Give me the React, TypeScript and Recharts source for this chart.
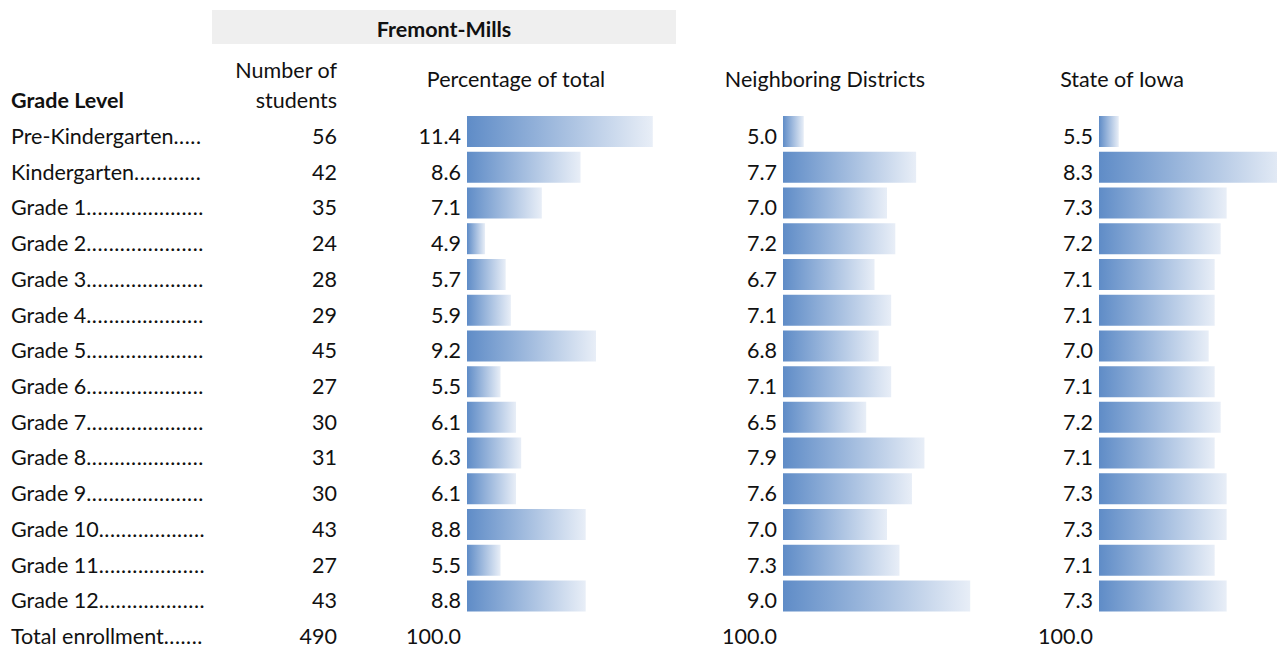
import React from 'react';
import { BarChart, Bar, XAxis, YAxis } from 'recharts';

const grades = ['Pre-Kindergarten', 'Kindergarten', 'Grade 1', 'Grade 2', 'Grade 3', 'Grade 4', 'Grade 5', 'Grade 6', 'Grade 7', 'Grade 8', 'Grade 9', 'Grade 10', 'Grade 11', 'Grade 12', 'Total enrollment'];
const students = [56, 42, 35, 24, 28, 29, 45, 27, 30, 31, 30, 43, 27, 43, 490];
const pctOfTotal = [11.4, 8.6, 7.1, 4.9, 5.7, 5.9, 9.2, 5.5, 6.1, 6.3, 6.1, 8.8, 5.5, 8.8];
const neighboring = [5.0, 7.7, 7.0, 7.2, 6.7, 7.1, 6.8, 7.1, 6.5, 7.9, 7.6, 7.0, 7.3, 9.0];
const iowa = [5.5, 8.3, 7.3, 7.2, 7.1, 7.1, 7.0, 7.1, 7.2, 7.1, 7.3, 7.3, 7.1, 7.3];
const totalPct = [100.0, 100.0, 100.0];

const data = grades.map((g, i) => ({
  grade: g,
  students: students[i],
  pct: i < pctOfTotal.length ? pctOfTotal[i] : null,
  nb: i < neighboring.length ? neighboring[i] : null,
  ia: i < iowa.length ? iowa[i] : null,
}));

const FONT = 'Lato, "Open Sans", sans-serif';
const FS = 21.5;
const CH_TOP = 114;
const CH_H = 536;
const BASE_OFF = 12;
const DOT_PITCH = 5.6;
const LABEL_END = 206;

const fmt = (v: number | null) => (v == null ? '' : v.toFixed(1));

let ctx: CanvasRenderingContext2D | null = null;
const measure = (s: string) => {
  if (typeof document === 'undefined') return s.length * FS * 0.5;
  if (!ctx) ctx = document.createElement('canvas').getContext('2d');
  if (!ctx) return s.length * FS * 0.5;
  ctx.font = `${FS}px Lato`;
  return ctx.measureText(s).width;
};

const dotsFor = (name: string) => {
  const w = measure(name);
  const dotW = measure('.');
  const n = Math.max(0, Math.floor((LABEL_END - 11 - w) / DOT_PITCH));
  return { n, spacing: DOT_PITCH - dotW };
};

const Grad = ({ id }: { id: string }) => (
  <defs>
    <linearGradient id={id} x1="0" y1="0" x2="1" y2="0">
      <stop offset="0%" stopColor="#5f8cc7" />
      <stop offset="100%" stopColor="#e8eef7" />
    </linearGradient>
  </defs>
);

const FirstTick = (props: any) => {
  const { y, payload } = props;
  const i = payload.index;
  const row = data[i];
  const val = i < pctOfTotal.length ? fmt(pctOfTotal[i]) : fmt(totalPct[0]);
  const d = dotsFor(row.grade);
  return (
    <g style={{ fontFamily: FONT, fontSize: FS }} fill="#111">
      <text x={11} y={y + BASE_OFF} textAnchor="start">
        {row.grade}
        <tspan style={{ letterSpacing: d.spacing }}>{'.'.repeat(d.n)}</tspan>
      </text>
      <text x={337} y={y + BASE_OFF} textAnchor="end">{row.students}</text>
      <text x={461} y={y + BASE_OFF} textAnchor="end">{val}</text>
    </g>
  );
};

const makeTick = (arr: number[], total: number, xEnd: number) => (props: any) => {
  const { y, payload } = props;
  const i = payload.index;
  const val = i < arr.length ? fmt(arr[i]) : fmt(total);
  return (
    <text x={xEnd} y={y + BASE_OFF} textAnchor="end" fill="#111" style={{ fontFamily: FONT, fontSize: FS }}>
      {val}
    </text>
  );
};

const NbTick = makeTick(neighboring, totalPct[1], 94);
const IaTick = makeTick(iowa, totalPct[2], 94);

const hdr: React.CSSProperties = {
  position: 'absolute',
  fontFamily: FONT,
  fontSize: FS,
  color: '#111',
  whiteSpace: 'nowrap',
  lineHeight: 1,
};

export default function App() {
  return (
    <div style={{ position: 'absolute', left: 0, top: 0, width: 1277, height: 649, background: '#fff', overflow: 'hidden' }}>
      <div style={{ position: 'absolute', left: 212, top: 10, width: 464, height: 34, background: '#efefef' }} />
      <div style={{ ...hdr, left: 212, width: 464, top: 19, textAlign: 'center', fontWeight: 700 }}>Fremont-Mills</div>
      <div style={{ ...hdr, left: 180, width: 157, top: 60, textAlign: 'right' }}>Number of</div>
      <div style={{ ...hdr, left: 180, width: 157, top: 90, textAlign: 'right' }}>students</div>
      <div style={{ ...hdr, left: 11, top: 90, fontWeight: 700 }}>Grade Level</div>
      <div style={{ ...hdr, left: 366, width: 300, top: 69, textAlign: 'center' }}>Percentage of total</div>
      <div style={{ ...hdr, left: 675, width: 300, top: 69, textAlign: 'center' }}>Neighboring Districts</div>
      <div style={{ ...hdr, left: 972, width: 300, top: 69, textAlign: 'center' }}>State of Iowa</div>

      <div style={{ position: 'absolute', left: 0, top: CH_TOP }}>
        <BarChart width={676} height={CH_H} data={data} layout="vertical" margin={{ top: 0, right: 0, bottom: 0, left: 0 }} barSize={31}>
          <Grad id="g1" />
          <XAxis type="number" hide domain={[4.2, 12.3]} allowDataOverflow />
          <YAxis type="category" dataKey="grade" width={467} axisLine={false} tickLine={false} tick={<FirstTick />} interval={0} />
          <Bar dataKey="pct" fill="url(#g1)" isAnimationActive={false} />
        </BarChart>
      </div>

      <div style={{ position: 'absolute', left: 683, top: CH_TOP }}>
        <BarChart width={308} height={CH_H} data={data} layout="vertical" margin={{ top: 0, right: 0, bottom: 0, left: 0 }} barSize={31}>
          <Grad id="g2" />
          <XAxis type="number" hide domain={[4.5, 9.5]} allowDataOverflow />
          <YAxis type="category" dataKey="grade" width={100} axisLine={false} tickLine={false} tick={<NbTick />} interval={0} />
          <Bar dataKey="nb" fill="url(#g2)" isAnimationActive={false} />
        </BarChart>
      </div>

      <div style={{ position: 'absolute', left: 999, top: CH_TOP }}>
        <BarChart width={278} height={CH_H} data={data} layout="vertical" margin={{ top: 0, right: 0, bottom: 0, left: 0 }} barSize={31}>
          <Grad id="g3" />
          <XAxis type="number" hide domain={[5.17, 8.14]} allowDataOverflow />
          <YAxis type="category" dataKey="grade" width={100} axisLine={false} tickLine={false} tick={<IaTick />} interval={0} />
          <Bar dataKey="ia" fill="url(#g3)" isAnimationActive={false} />
        </BarChart>
      </div>
    </div>
  );
}
